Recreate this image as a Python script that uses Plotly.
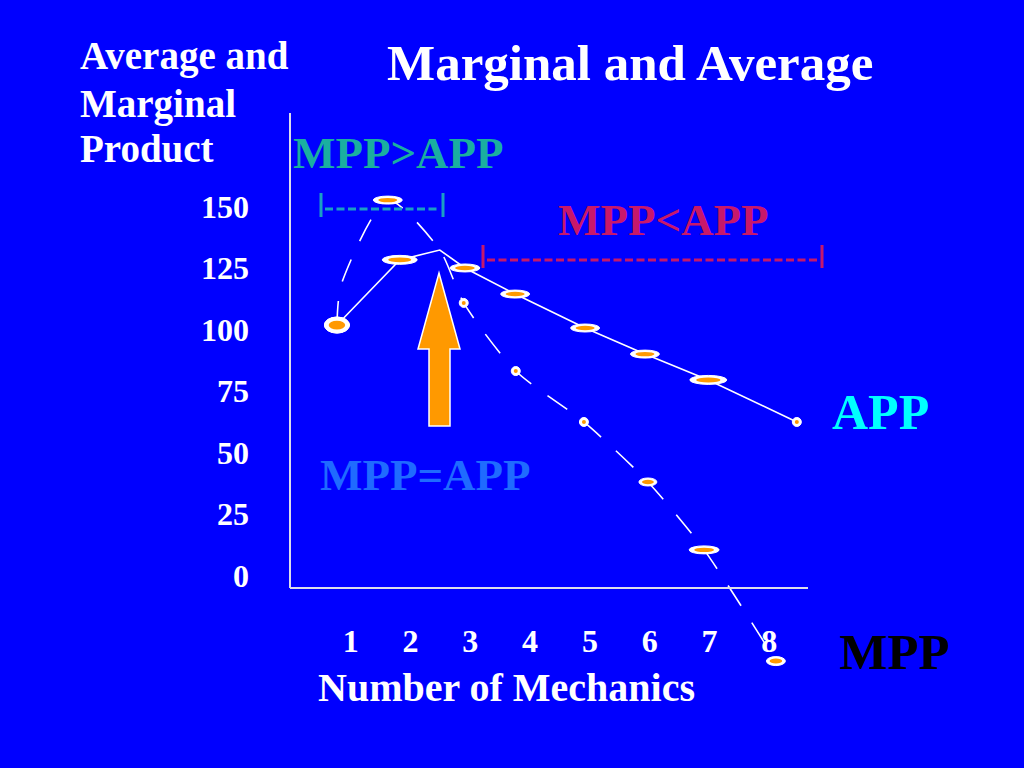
import plotly.graph_objects as go

# ---------------- data ----------------
mechanics_ticks = [1, 2, 3, 4, 5, 6, 7, 8]
mechanics_labels = ["1", "2", "3", "4", "5", "6", "7", "8"]
product_ticks = [0, 25, 50, 75, 100, 125, 150]
product_labels = ["0", "25", "50", "75", "100", "125", "150"]

# Average physical product (solid line)
app_mechanics = [0.77, 1.82, 2.49, 2.91, 3.75, 4.92, 5.92, 6.98, 8.46]
app_values = [101.8, 128.3, 132.3, 125.0, 114.4, 100.6, 90.0, 79.5, 62.4]

# Marginal physical product (dashed line)
mpp_mechanics = [0.77, 0.84, 1.62, 2.49, 2.89, 3.76, 4.90, 5.97, 6.91, 8.11]
mpp_values = [101.8, 118.1, 152.6, 132.3, 110.8, 83.1, 62.4, 38.0, 10.4, -34.8]

# ---------------- styles ----------------
# marker (burst) sizes in pixels, 0 = no marker at that vertex
app_marker_w = [25, 35, 0, 30, 29, 29, 29, 37, 9]
app_marker_h = [16, 9, 0, 8, 8, 8, 8, 9, 9]
mpp_marker_w = [25, 0, 29, 0, 9, 9, 9, 18, 30, 19]
mpp_marker_h = [16, 0, 8, 0, 9, 9, 9, 8, 8, 9]

BG = "#0000FF"
ORANGE = "#FF9900"
WHITE = "#FFFFFF"
AXIS_COLOR = "#DCDCEB"
FONT = "Liberation Serif, Times New Roman, serif"

W, H = 1024, 768
L, R, T, B = 290, 216, 113, 82
PW, PH = W - L - R, H - T - B
X_RANGE = [-0.015, 8.647]
Y_RANGE = [-44.93, 188.0]


def fx(px):
    return (px - L) / PW


def fy(py):
    return (H - B - py) / PH


def bold(s):
    return "<b>" + s + "</b>"


fig = go.Figure()

fig.add_trace(go.Scatter(
    x=app_mechanics, y=app_values, mode="lines", name="APP",
    line=dict(color=WHITE, width=1.6), showlegend=False, hoverinfo="x+y"))

fig.add_trace(go.Scatter(
    x=mpp_mechanics, y=mpp_values, mode="lines", name="MPP",
    line=dict(color=WHITE, width=1.6, dash="24px,20px", shape="spline", smoothing=0.7),
    showlegend=False, hoverinfo="x+y"))

shapes = []


def burst(xv, yv, w, h):
    if w <= 0:
        return
    shapes.append(dict(type="circle", xref="x", yref="y", xsizemode="pixel", ysizemode="pixel",
                       xanchor=xv, yanchor=yv, x0=-w / 2, x1=w / 2, y0=-h / 2, y1=h / 2,
                       fillcolor=WHITE, line=dict(color=WHITE, width=1), layer="above"))
    iw = max(4, w * 0.66) if w > 12 else 4
    ih = max(3, h * 0.55) if w > 12 else 4
    shapes.append(dict(type="circle", xref="x", yref="y", xsizemode="pixel", ysizemode="pixel",
                       xanchor=xv, yanchor=yv, x0=-iw / 2, x1=iw / 2, y0=-ih / 2, y1=ih / 2,
                       fillcolor=ORANGE, line=dict(width=0), layer="above"))


for xv, yv, w, h in zip(app_mechanics, app_values, app_marker_w, app_marker_h):
    burst(xv, yv, w, h)
for xv, yv, w, h in zip(mpp_mechanics, mpp_values, mpp_marker_w, mpp_marker_h):
    burst(xv, yv, w, h)

# vertical axis line (stops at the horizontal axis)
shapes.append(dict(type="line", xref="paper", yref="paper", x0=0, x1=0, y0=fy(588), y1=1,
                   line=dict(color=AXIS_COLOR, width=2)))

# arrow pointing at MPP = APP
arrow_pts = [(439, 273), (460, 349), (450, 349), (450, 426), (429, 426), (429, 349), (418, 349)]
path = "M " + " L ".join(f"{fx(a):.5f},{fy(b):.5f}" for a, b in arrow_pts) + " Z"
shapes.append(dict(type="path", xref="paper", yref="paper", path=path,
                   fillcolor=ORANGE, line=dict(color=WHITE, width=1.5), layer="above"))


def bracket(x_left, x_right, y_dash, y_top, y_bot, color):
    for xb in (x_left, x_right):
        shapes.append(dict(type="line", xref="paper", yref="paper", x0=fx(xb), x1=fx(xb),
                           y0=fy(y_top), y1=fy(y_bot), line=dict(color=color, width=3)))
    shapes.append(dict(type="line", xref="paper", yref="paper", x0=fx(x_left + 4), x1=fx(x_right - 3),
                       y0=fy(y_dash), y1=fy(y_dash), line=dict(color=color, width=3, dash="8px,3.5px")))


bracket(321, 443, 209, 193, 217, "#1AA0C4")
bracket(483, 822, 260, 245, 268, "#C4186C")

annotations = []


def label(text, px, py, size, color, anchor="left"):
    annotations.append(dict(text=bold(text), x=fx(px), y=fy(py), xref="paper", yref="paper",
                            xanchor=anchor, yanchor="middle", showarrow=False,
                            font=dict(family=FONT, size=size, color=color)))


label("Marginal and Average", 630, 63, 51, WHITE, anchor="center")
label("Average and", 78, 56, 39, WHITE)
label("Marginal", 78, 104, 39, WHITE)
label("Product", 78, 149, 39, WHITE)
label("MPP&gt;APP", 291, 153, 45, "#1AAFA0")
label("MPP&lt;APP", 556, 220, 45, "#C8186A")
label("MPP=APP", 318, 475, 45, "#1F6BFF")
label("APP", 830, 412, 50, "#00FFFF")
label("MPP", 837, 652, 51, "#000000")
label("Number of Mechanics", 316, 687, 40, WHITE)

fig.update_layout(
    width=W, height=H,
    margin=dict(l=L, r=R, t=T, b=B, pad=0),
    paper_bgcolor=BG, plot_bgcolor=BG,
    showlegend=False,
    shapes=shapes,
    annotations=annotations,
    xaxis=dict(range=X_RANGE, tickvals=mechanics_ticks, ticktext=[bold(s) for s in mechanics_labels],
               showgrid=False, zeroline=False, showline=True, linecolor=AXIS_COLOR, linewidth=2,
               anchor="free", position=fy(588), ticks="", ticklabelstandoff=25,
               tickfont=dict(family=FONT, size=32, color=WHITE), fixedrange=True),
    yaxis=dict(range=Y_RANGE, tickvals=product_ticks, ticktext=[bold(s) for s in product_labels],
               showgrid=False, zeroline=False, showline=False, ticks="", ticklabelstandoff=40,
               tickfont=dict(family=FONT, size=32, color=WHITE), fixedrange=True),
)

fig.write_html("out.html", config={"displayModeBar": False},
               post_script="document.body.style.margin='0';document.body.style.overflow='hidden';")
